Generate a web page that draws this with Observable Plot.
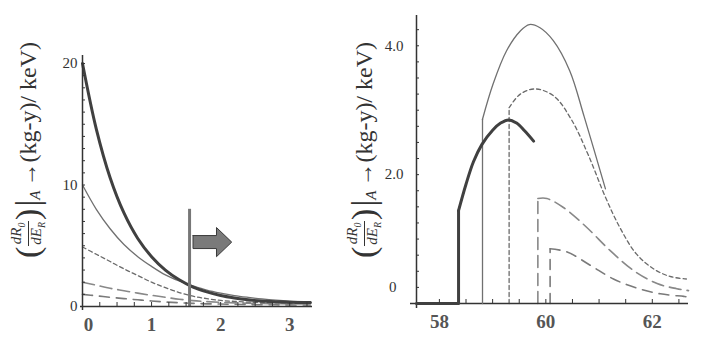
<!DOCTYPE html>
<html><head><meta charset="utf-8">
<script src="https://cdn.jsdelivr.net/npm/d3@7"></script>
<script src="https://cdn.jsdelivr.net/npm/@observablehq/plot@0.6"></script>
<style>
body{margin:0;background:#fff;}
#wrap{position:relative;width:706px;height:349px;overflow:hidden;font-family:"Liberation Serif","Times New Roman","DejaVu Serif",serif;color:#333;}
.panel{position:absolute;top:0;}
.ylab{position:absolute;transform:translate(-50%,-50%) rotate(-90deg);white-space:nowrap;display:flex;align-items:center;font-size:24px;color:#333;font-family:"Liberation Serif","Times New Roman",serif;}
.paren{font-size:34px;line-height:1;}
.frac{display:inline-flex;flex-direction:column;align-items:center;font-size:15px;font-style:italic;line-height:1.05;margin:0 1px;}
.frac .den{border-top:1px solid #333;padding:0 1px;}
.frac sub{font-size:10px;}
.bar{font-size:34px;line-height:1;margin-left:2px;}
.subA{font-style:italic;font-size:15px;align-self:flex-end;margin-bottom:3px;margin-right:4px;}
</style></head>
<body><div id="wrap"></div>
<script>
// ---------- left panel data ----------
const leftE = [0,0.2,0.4,0.6,0.8,1.0,1.2,1.4,1.6,1.8,2.0,2.2,2.4,2.6,2.8,3.0,3.3];
const leftThick = [20,14.6,10.6,7.7,5.6,4.1,3.0,2.2,1.6,1.2,0.9,0.7,0.55,0.45,0.4,0.35,0.32];
const leftThin  = [10,8.0,6.4,5.1,4.1,3.3,2.6,2.1,1.7,1.35,1.1,0.9,0.75,0.62,0.52,0.45,0.4];
const leftShort = [4.9,4.3,3.7,3.1,2.55,2.0,1.55,1.15,0.85,0.65,0.5,0.42,0.36,0.32,0.29,0.27,0.25];
const leftLong1 = [2.0,1.75,1.5,1.3,1.1,0.92,0.76,0.6,0.48,0.4,0.34,0.3,0.27,0.25,0.23,0.22,0.2];
const leftLong2 = [1.0,0.88,0.76,0.65,0.55,0.45,0.37,0.31,0.26,0.22,0.2,0.18,0.16,0.15,0.14,0.13,0.12];
const cutE = [1.55];
const cutTop = [8.0];
const arrowX = [1.6,1.94,1.94,2.16,1.94,1.94,1.6,1.6];
const arrowY = [5.84,5.84,6.5,5.3,4.1,4.77,4.77,5.84];
const leftXLabels = [1,2,3];
const leftYLabels = [0,10,20];

// ---------- right panel data ----------
const thickX = [57.57,58.36,58.36,58.5,58.64,58.8,59.0,59.15,59.3,59.45,59.6,59.77];
const thickY = [0,0,1.44,1.85,2.2,2.47,2.69,2.8,2.85,2.8,2.68,2.52];
const thinX = [58.81,58.81,59.01,59.26,59.52,59.69,59.89,60.14,60.45,60.72,61.12];
const thinY = [0,2.86,3.41,3.92,4.23,4.33,4.28,4.08,3.61,2.9,1.78];
const shortX = [59.31,59.31,59.52,59.8,60.15,60.49,60.8,61.12,61.39,61.7,62.02,62.33,62.64];
const shortY = [0,3.04,3.25,3.33,3.22,2.84,2.3,1.65,1.18,0.77,0.54,0.42,0.38];
const long1X = [59.85,59.85,60.02,60.33,60.77,61.21,61.65,62.09,62.46,62.68];
const long1Y = [0,1.63,1.63,1.49,1.18,0.82,0.51,0.31,0.23,0.2];
const long2X = [60.08,60.08,60.4,60.84,61.27,61.71,62.15,62.59,62.68];
const long2Y = [0,0.85,0.8,0.59,0.38,0.24,0.15,0.11,0.1];
const rightXLabels = [58,60,62];
const rightYLabels = [2,4];

// ---------- helpers ----------
const font = {fontFamily:"'Liberation Serif', 'Times New Roman', serif", background:"transparent", color:"#333"};
const intFmt = d3.format("d");
function piece(xs, ys, k, st) {
  return [
    Plot.line(xs.slice(0, k + 1), {x: xs.slice(0, k + 1), y: ys.slice(0, k + 1), curve: "linear", ...st}),
    Plot.line(xs.slice(k), {x: xs.slice(k), y: ys.slice(k), curve: "catmull-rom", ...st})
  ];
}
const S = {
  thick: {stroke:"#404040", strokeWidth:3},
  thin: {stroke:"#707070", strokeWidth:1.3},
  short: {stroke:"#6a6a6a", strokeWidth:1.3, strokeDasharray:"4,3"},
  long1: {stroke:"#888", strokeWidth:1.6, strokeDasharray:"12,6"},
  long2: {stroke:"#7a7a7a", strokeWidth:1.6, strokeDasharray:"10,7"}
};

// ---------- left plot ----------
const left = Plot.plot({
  width: 353, height: 349,
  marginLeft: 82, marginRight: 41, marginTop: 55, marginBottom: 43,
  style: font,
  x: {domain: [0, 3.33]},
  y: {domain: [0, 20.66]},
  marks: [
    Plot.line(leftE, {x: leftE, y: leftLong2, curve: "catmull-rom", ...S.long2}),
    Plot.line(leftE, {x: leftE, y: leftLong1, curve: "catmull-rom", ...S.long1}),
    Plot.line(leftE, {x: leftE, y: leftShort, curve: "catmull-rom", ...S.short}),
    Plot.line(leftE, {x: leftE, y: leftThin, curve: "catmull-rom", ...S.thin}),
    Plot.line(leftE, {x: leftE, y: leftThick, curve: "catmull-rom", ...S.thick}),
    Plot.ruleX(cutE, {x: cutE, y1: 0, y2: cutTop, stroke: "#777", strokeWidth: 3}),
    Plot.line(arrowX, {x: arrowX, y: arrowY, fill: "#7a7a7a", stroke: "#3a3a3a", strokeWidth: 1, curve: "linear"}),
    Plot.ruleY([0], {stroke: "#333", strokeWidth: 1.5, insetLeft: -2}),
    Plot.ruleX([0], {stroke: "#333", strokeWidth: 1.5, insetBottom: -4}),
    Plot.axisX({ticks: d3.range(0.25, 3.3, 0.25), tickSize: 4, dy: -4, tickFormat: () => "", label: null, stroke: "#333"}),
    Plot.axisY({ticks: d3.range(1, 20.5, 1), tickSize: 3, dx: 3, tickFormat: () => "", label: null, stroke: "#333"}),
    Plot.axisX({ticks: leftXLabels, tickSize: 0, tickPadding: 11, fontSize: 19, fontWeight: "bold", color: "#555", tickFormat: intFmt, label: null}),
    Plot.axisX({ticks: [0], tickSize: 0, tickPadding: 11, dx: 6, fontSize: 19, fontWeight: "bold", color: "#555", tickFormat: intFmt, label: null}),
    Plot.axisY({ticks: leftYLabels, tickSize: 0, tickPadding: 5, fontSize: 15, color: "#333", tickFormat: intFmt, label: null})
  ]
});
left.classList.add("panel");
left.style.left = "0px";

// ---------- right plot ----------
const right = Plot.plot({
  width: 353, height: 349,
  marginLeft: 63, marginRight: 18, marginTop: 15, marginBottom: 46,
  style: font,
  x: {domain: [57.57, 62.68]},
  y: {domain: [0, 4.47]},
  marks: [
    ...piece(long2X, long2Y, 1, S.long2),
    ...piece(long1X, long1Y, 1, S.long1),
    ...piece(shortX, shortY, 1, S.short),
    Plot.ruleY([0], {stroke: "#333", strokeWidth: 1.5, insetLeft: -6}),
    Plot.ruleX([57.57], {stroke: "#333", strokeWidth: 1.5, insetBottom: -5}),
    ...piece(thinX, thinY, 1, S.thin),
    ...piece(thickX, thickY, 2, S.thick),
    Plot.axisX({ticks: d3.range(58, 62.6, 0.5), tickSize: 4, dy: -4, tickFormat: () => "", label: null, stroke: "#333"}),
    Plot.axisY({ticks: d3.range(0.25, 4.4, 0.25), tickSize: 3, dx: 3, tickFormat: () => "", label: null, stroke: "#333"}),
    Plot.axisX({ticks: rightXLabels, tickSize: 0, tickPadding: 11, fontSize: 19, fontWeight: "bold", color: "#555", tickFormat: intFmt, label: null}),
    Plot.axisY({ticks: rightYLabels, tickSize: 0, tickPadding: 13, fontSize: 15, tickFormat: d3.format(".1f"), color: "#333", label: null}),
    Plot.axisY({ticks: [0], tickSize: 0, tickPadding: 20, dy: -16, fontSize: 15, color: "#333", tickFormat: intFmt, label: null})
  ]
});
right.classList.add("panel");
right.style.left = "353px";

const wrap = document.getElementById("wrap");
wrap.appendChild(left);
wrap.appendChild(right);

function ylabel(cx, cy) {
  const d = document.createElement("div");
  d.className = "ylab";
  d.style.left = cx + "px";
  d.style.top = cy + "px";
  d.innerHTML = '<span class="paren">(</span><span class="frac"><span class="num">dR<sub>0</sub></span><span class="den">dE<sub>R</sub></span></span><span class="paren">)</span><span class="bar">|</span><span class="subA">A</span><span>→(kg-y)/ keV)</span>';
  wrap.appendChild(d);
}
ylabel(28, 150);
ylabel(364, 150);
</script>
</body></html>
